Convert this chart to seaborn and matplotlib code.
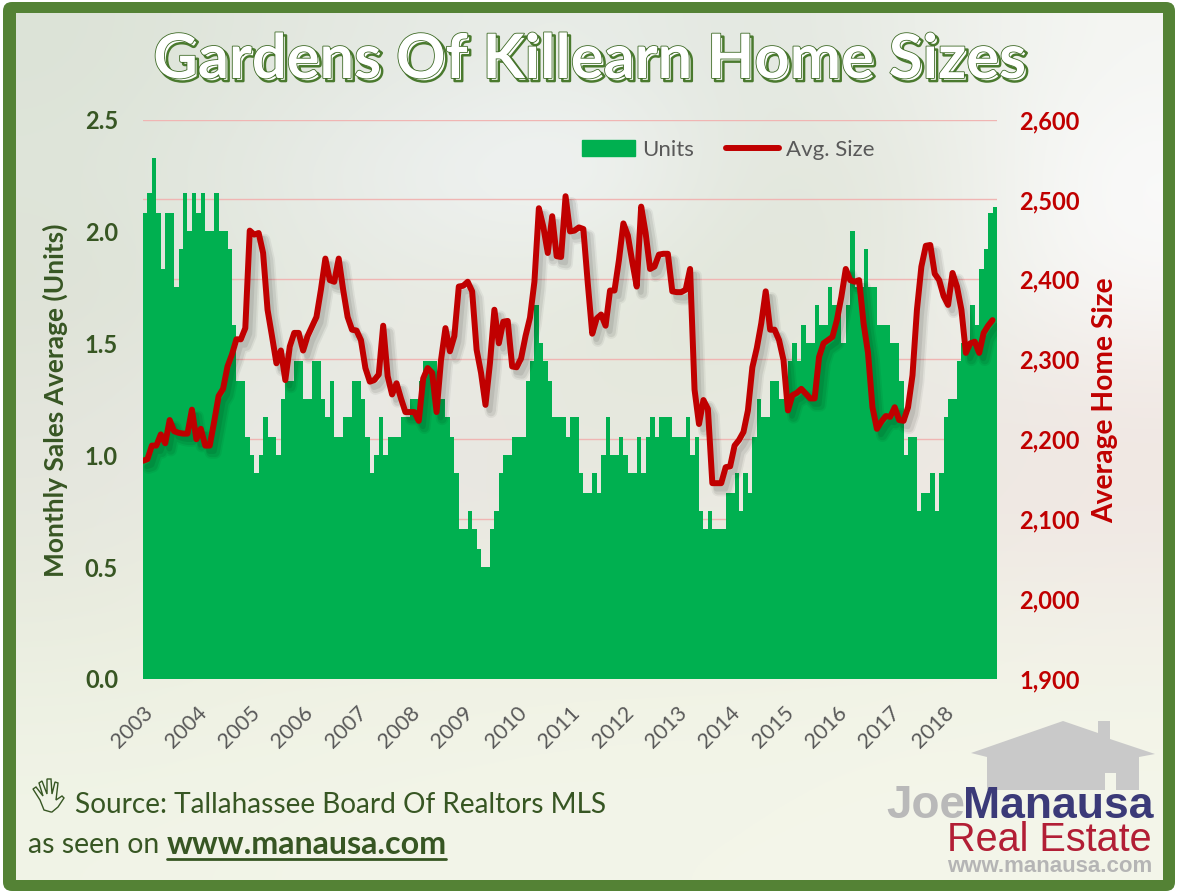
import numpy as np
import pandas as pd
import matplotlib
matplotlib.use("Agg")
import matplotlib.pyplot as plt
import matplotlib.patheffects as pe
from matplotlib.colors import to_rgb
from matplotlib.lines import Line2D
from matplotlib.patches import Patch, Polygon, FancyBboxPatch
import seaborn as sns

# monthly values, one row per year, 2003 to 2018
units = [
    2.08, 2.17, 2.33, 2.08, 1.83, 2.08, 2.08, 1.75, 1.92, 2.17, 2.00, 2.17,
    2.08, 2.17, 2.00, 2.00, 2.17, 2.00, 2.00, 1.92, 1.58, 1.33, 1.33, 1.08,
    1.00, 0.92, 1.00, 1.17, 1.08, 1.08, 1.00, 1.25, 1.33, 1.33, 1.42, 1.42,
    1.25, 1.25, 1.42, 1.42, 1.25, 1.17, 1.33, 1.08, 1.08, 1.17, 1.17, 1.33,
    1.33, 1.25, 1.08, 0.92, 1.00, 1.17, 1.00, 1.08, 1.08, 1.08, 1.17, 1.17,
    1.25, 1.25, 1.33, 1.42, 1.42, 1.42, 1.25, 1.25, 1.17, 1.08, 0.92, 0.67,
    0.67, 0.75, 0.67, 0.58, 0.50, 0.50, 0.67, 0.75, 0.92, 1.00, 1.00, 1.08,
    1.08, 1.08, 1.33, 1.42, 1.67, 1.50, 1.42, 1.33, 1.17, 1.17, 1.17, 1.08,
    1.17, 1.17, 0.92, 0.83, 0.83, 0.92, 0.83, 1.00, 1.17, 1.00, 1.00, 1.08,
    1.00, 0.92, 0.92, 1.08, 0.92, 1.08, 1.17, 1.08, 1.17, 1.17, 1.17, 1.08,
    1.08, 1.08, 1.17, 1.00, 1.08, 0.75, 0.67, 0.75, 0.67, 0.67, 0.67, 0.83,
    0.83, 0.92, 0.75, 0.92, 0.83, 1.08, 1.25, 1.17, 1.17, 1.33, 1.33, 1.25,
    1.25, 1.42, 1.50, 1.42, 1.58, 1.50, 1.50, 1.67, 1.58, 1.58, 1.75, 1.67,
    1.67, 1.50, 1.67, 2.00, 1.75, 1.75, 1.92, 1.75, 1.75, 1.58, 1.58, 1.58,
    1.50, 1.50, 1.33, 1.00, 1.08, 1.08, 0.75, 0.83, 0.83, 0.92, 0.75, 0.92,
    1.17, 1.25, 1.25, 1.42, 1.50, 1.50, 1.67, 1.58, 1.83, 1.92, 2.08, 2.11,
]
avg_size = [
    2173, 2175, 2192, 2192, 2206, 2195, 2224, 2210, 2208, 2207, 2207, 2237,
    2200, 2213, 2192, 2192, 2222, 2254, 2263, 2291, 2306, 2325, 2325, 2339,
    2461, 2456, 2458, 2433, 2362, 2329, 2295, 2311, 2274, 2316, 2333, 2333,
    2311, 2329, 2341, 2353, 2387, 2426, 2399, 2397, 2426, 2387, 2353, 2337,
    2336, 2324, 2289, 2272, 2274, 2281, 2342, 2279, 2256, 2270, 2251, 2234,
    2234, 2234, 2223, 2276, 2289, 2283, 2234, 2299, 2339, 2310, 2329, 2391,
    2392, 2397, 2385, 2312, 2283, 2243, 2295, 2362, 2320, 2347, 2348, 2291,
    2290, 2301, 2329, 2352, 2397, 2489, 2466, 2433, 2479, 2429, 2428, 2504,
    2460, 2461, 2465, 2463, 2395, 2332, 2351, 2356, 2342, 2386, 2386, 2424,
    2470, 2455, 2422, 2391, 2491, 2458, 2413, 2416, 2431, 2432, 2432, 2385,
    2384, 2384, 2387, 2413, 2262, 2219, 2249, 2238, 2145, 2145, 2145, 2165,
    2166, 2192, 2199, 2209, 2236, 2290, 2314, 2345, 2385, 2337, 2337, 2324,
    2299, 2236, 2255, 2258, 2263, 2257, 2251, 2251, 2303, 2320, 2324, 2328,
    2349, 2378, 2413, 2399, 2397, 2399, 2345, 2308, 2240, 2213, 2222, 2229,
    2228, 2240, 2224, 2223, 2240, 2280, 2362, 2416, 2442, 2443, 2407, 2399,
    2379, 2368, 2408, 2391, 2362, 2308, 2320, 2322, 2308, 2333, 2342, 2349,
]
years = list(range(2003, 2019))
units_ticks = [0.0, 0.5, 1.0, 1.5, 2.0, 2.5]
size_ticks = [1900, 2000, 2100, 2200, 2300, 2400, 2500, 2600]

DARK_GREEN = "#375623"
FRAME_GREEN = "#548235"
BAR_GREEN = "#00B050"
RED = "#C00000"
GREY = "#595959"
FONT = "Lato"

# washed out photo behind the chart, as coarse colour patches
photo = [
    ["#dce3d7", "#e2e7de", "#e6eae4", "#e9ede8", "#e2e7df", "#ebeee8", "#f5f6f3"],
    ["#dfe5da", "#e6eae4", "#eef1f1", "#f5f7f9", "#e1e6db", "#e6e9e0", "#fbfbfb"],
    ["#dde2d6", "#e3e8dd", "#e8ebe3", "#e6eadf", "#dfe4d7", "#e8ebe2", "#f9f8f7"],
    ["#e3e5dc", "#e8eae3", "#ebe9e5", "#e5e8dc", "#e6e9de", "#eaeae4", "#f1e9e4"],
    ["#e5e7de", "#ebeae5", "#e8e4e1", "#e8e8e0", "#ebe9e3", "#eee6e1", "#f0e7e3"],
    ["#e9ecdf", "#eef0e0", "#eef0e3", "#eef0e0", "#eef0e2", "#f0f0e4", "#f2efe8"],
    ["#eef2e4", "#f0f3e5", "#f1f3e6", "#f2f4e7", "#f2f4e7", "#f3f5e8", "#f3f5e8"],
    ["#f1f4e7", "#f2f4e8", "#f3f5e9", "#f3f5e9", "#f3f5e9", "#f4f6ea", "#f4f6ea"],
]
photo_rgb = np.array([[to_rgb(c) for c in row] for row in photo])


def px_rect(left, top, right, bottom):
    """axes rectangle from pixel edges of the 1179x893 picture"""
    return [left / 1179, 1 - bottom / 893, (right - left) / 1179, (bottom - top) / 893]


sns.set_theme(style="white")
plt.rcParams["font.family"] = [FONT, "DejaVu Sans"]
fig = plt.figure(figsize=(11.79, 8.93), dpi=100, facecolor="white")

# page layer: pixel coordinates, y going down
page = fig.add_axes([0, 0, 1, 1], zorder=0)
page.set_xlim(0, 1179)
page.set_ylim(893, 0)
page.axis("off")
page.add_patch(FancyBboxPatch((3, 2), 1172, 889, boxstyle="round,pad=0,rounding_size=9",
                              fc=FRAME_GREEN, ec="none"))
page.imshow(photo_rgb, extent=(16, 1163, 880, 13), aspect="auto",
            interpolation="bicubic", zorder=2)
page.set_xlim(0, 1179)
page.set_ylim(893, 0)

# bars on the left axis
ax = fig.add_axes(px_rect(143, 119.5, 997, 679), zorder=1)
ax.patch.set_visible(False)
months = np.arange(len(units))
df = pd.DataFrame({"month": months, "units": units, "avg_size": avg_size})

for v in size_ticks[1:]:
    ax.axhline((v - 1900) / 700 * 2.5, color="#f0b5b3", lw=1, zorder=0)
sns.barplot(data=df.assign(mid=df["month"] + 0.5), x="mid", y="units", native_scale=True,
            width=1, color=BAR_GREEN, saturation=1, linewidth=0, antialiased=False,
            zorder=2, ax=ax)
ax.set_xlim(0, 192)
ax.set_ylim(0, 2.5)
ax.set_xlabel("")
ax.set_ylabel("")
ax.set_yticks(units_ticks, [f"{t:.1f}" for t in units_ticks], color=DARK_GREEN,
              fontsize=17, fontweight="bold")
ax.set_xticks(np.arange(len(years)) * 12, [str(y) for y in years], color=GREY, fontsize=15.5,
              rotation=45, ha="right", rotation_mode="anchor")
ax.tick_params(axis="y", length=0, pad=18)
ax.tick_params(axis="x", length=0, pad=17)
sns.despine(ax=ax, left=True, bottom=True)

# line on the right axis
ax2 = ax.twinx()
ax2.set_zorder(2)
sns.lineplot(data=df, x="month", y="avg_size", color=RED, linewidth=4.3, errorbar=None,
             legend=False, solid_capstyle="round", solid_joinstyle="round", ax=ax2)
ax2.lines[0].set_path_effects([
    pe.SimpleLineShadow(offset=(4, -5), shadow_color="#000000", alpha=0.05, linewidth=9),
    pe.SimpleLineShadow(offset=(4, -5), shadow_color="#000000", alpha=0.07, linewidth=6.5),
    pe.SimpleLineShadow(offset=(3, -4), shadow_color="#000000", alpha=0.08, linewidth=4),
    pe.Normal(),
])
ax2.set_xlim(0, 192)
ax2.set_ylim(1900, 2600)
ax2.set_xlabel("")
ax2.set_ylabel("")
ax2.set_yticks(size_ticks, [f"{t:,}" for t in size_ticks], color=RED, fontsize=17,
               fontweight="bold")
ax2.tick_params(axis="y", length=0, pad=16)
ax2.grid(False)
sns.despine(ax=ax2, left=True, bottom=True, right=True)

ax2.legend(
    handles=[Patch(color=BAR_GREEN, label="Units"),
             Line2D([], [], color=RED, lw=4.3, solid_capstyle="round", label="Avg. Size")],
    loc="center", bbox_to_anchor=(728, 150), bbox_transform=page.transData, ncol=2,
    frameon=False, fontsize=16, labelcolor=GREY, handlelength=2.4, handleheight=0.75,
    handletextpad=0.3, columnspacing=1.45,
)

# top layer for texts and logo
top = fig.add_axes([0, 0, 1, 1], zorder=3)
top.set_xlim(0, 1179)
top.set_ylim(893, 0)
top.axis("off")

top.text(590, 60, "Gardens Of Killearn Home Sizes", ha="center", va="center", fontsize=44.2,
         fontweight="bold", color="white", path_effects=[
             pe.Stroke(linewidth=1.8, foreground="#4a7a2e", offset=(2.2, -2.2)),
             pe.Stroke(linewidth=1.2, foreground="#3f6b27"),
             pe.Normal()])
top.text(55, 400, "Monthly Sales Average (Units)", rotation=90, ha="center", va="center",
         fontsize=19, fontweight="bold", color=DARK_GREEN)
top.text(1105, 400, "Average Home Size", rotation=90, ha="center", va="center",
         fontsize=20.3, fontweight="bold", color=RED)

top.text(75, 805, "Source: Tallahassee Board Of Realtors MLS", ha="left", va="center",
         fontsize=20.2, color=DARK_GREEN)
top.text(28, 845, "as seen on", ha="left", va="center", fontsize=20.4, color=DARK_GREEN)
top.text(167, 845, "www.manausa.com", ha="left", va="center", fontsize=23.2,
         fontweight="bold", color=DARK_GREEN)
top.add_line(Line2D([167, 446], [859, 859], color=DARK_GREEN, lw=2))

# hand icon
hand = [(44, 810), (40, 800), (33, 789), (36, 787), (43, 796), (39, 783), (42, 781), (47, 794),
        (47, 779), (51, 779), (52, 794), (55, 782), (58, 783), (56, 800), (62, 796), (64, 798),
        (58, 807), (52, 812), (51, 812)]
top.add_patch(Polygon(hand, closed=True, fc="none", ec=DARK_GREEN, lw=1))

# logo
house = [(971, 753), (1063, 721), (1098, 733), (1098, 721), (1110, 721), (1110, 739),
         (1155, 754), (1139, 757), (1139, 790), (1116, 790), (1116, 773), (1105, 773),
         (1105, 790), (1003, 790), (987, 790), (987, 757)]
top.add_patch(Polygon(house, closed=True, fc="#c9c9c9", ec="none"))
top.text(886, 818, "Joe", ha="left", va="baseline", fontsize=33, fontweight="bold",
         color="#b9b9b9", family="Liberation Sans")
top.text(963, 818, "Manausa", ha="left", va="baseline", fontsize=32, fontweight="bold",
         color="#3b3a78", family="Liberation Sans")
top.text(1152, 851, "Real Estate", ha="right", va="baseline", fontsize=28.5,
         color="#b21e35", family="Liberation Sans")
top.text(1152, 872, "www.manausa.com", ha="right", va="baseline", fontsize=16,
         fontweight="bold", color="#b5b5b5", family="Liberation Sans")

fig.savefig("out.png", dpi=100)
